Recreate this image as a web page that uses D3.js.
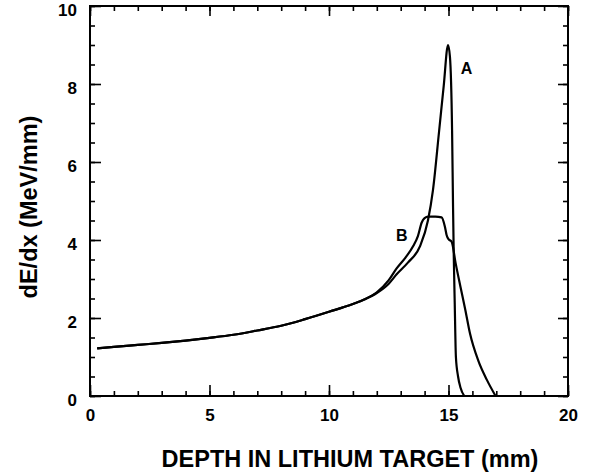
<!DOCTYPE html>
<html>
<head>
<meta charset="utf-8">
<script src="https://cdn.jsdelivr.net/npm/d3@7"></script>
<style>
  html, body { margin: 0; padding: 0; background: #fff; }
  svg text { font-family: "Liberation Sans", Arial, Helvetica, sans-serif; font-weight: bold; fill: #000; }
</style>
</head>
<body>
<svg id="chart" width="590" height="475"></svg>
<script>
// Stopping power along the beam path in a lithium target
const depthA = [0.3, 1, 2, 3, 4, 5, 6, 7, 8, 9, 10, 11, 11.5, 12, 12.5, 12.83, 13.3, 13.8, 14.14, 14.35, 14.6, 14.8, 14.98, 15.06, 15.15, 15.19, 15.22, 15.26, 15.31, 15.4, 15.5, 15.66];
const dedxA  = [1.22, 1.26, 1.31, 1.36, 1.42, 1.49, 1.57, 1.68, 1.80, 1.97, 2.16, 2.36, 2.48, 2.64, 2.88, 3.12, 3.42, 3.83, 4.5, 5.28, 6.75, 7.95, 9.0, 8.7, 6.8, 4.85, 3.6, 2.4, 1.0, 0.5, 0.22, 0];

const depthB = [0.3, 1, 2, 3, 4, 5, 6, 7, 8, 9, 10, 11, 11.5, 12, 12.5, 12.83, 13.2, 13.53, 13.72, 13.88, 14.0, 14.15, 14.45, 14.71, 14.85, 14.92, 15.0, 15.13, 15.3, 15.5, 15.7, 15.9, 16.25, 16.6, 16.97];
const dedxB  = [1.22, 1.26, 1.31, 1.36, 1.42, 1.49, 1.57, 1.68, 1.80, 1.97, 2.16, 2.36, 2.48, 2.66, 2.97, 3.27, 3.55, 3.85, 4.1, 4.45, 4.56, 4.6, 4.6, 4.58, 4.34, 4.13, 4.02, 3.96, 3.4, 2.8, 2.22, 1.6, 0.9, 0.42, 0];

const curveNames = ["A", "B"];
const xMajorTicks = [0, 5, 10, 15, 20];
const yMajorTicks = [0, 2, 4, 6, 8, 10];
const xTitle = "DEPTH IN LITHIUM TARGET (mm)";
const yTitle = "dE/dx (MeV/mm)";

const svg = d3.select("#chart");
const plotL = 90, plotR = 568, plotT = 6, plotB = 396;

const x = d3.scaleLinear().domain([0, 20]).range([plotL, plotR]);
const y = d3.scaleLinear().domain([0, 10]).range([plotB, plotT]);

const xMinor = d3.range(0, 20.001, 1);
const yMinor = d3.range(0, 10.001, 0.5);

function styleAxis(g) {
  g.select(".domain").remove();
  g.selectAll(".tick line").attr("stroke", "#000").attr("stroke-width", 1.6);
  g.selectAll(".tick text").style("font-size", "17px");
}

// minor ticks on all four sides (pointing inward)
svg.append("g").attr("transform", `translate(0,${plotB})`)
  .call(d3.axisBottom(x).tickValues(xMinor).tickSize(-5).tickFormat("")).call(styleAxis);
svg.append("g").attr("transform", `translate(0,${plotT})`)
  .call(d3.axisTop(x).tickValues(xMinor).tickSize(-5).tickFormat("")).call(styleAxis);
svg.append("g").attr("transform", `translate(${plotL},0)`)
  .call(d3.axisLeft(y).tickValues(yMinor).tickSize(-5).tickFormat("")).call(styleAxis);
svg.append("g").attr("transform", `translate(${plotR},0)`)
  .call(d3.axisRight(y).tickValues(yMinor).tickSize(-5).tickFormat("")).call(styleAxis);

// major ticks with labels
svg.append("g").attr("transform", `translate(0,${plotB})`)
  .call(d3.axisBottom(x).tickValues(xMajorTicks).tickSize(-11).tickPadding(13).tickFormat(d3.format("d")))
  .call(styleAxis);
svg.append("g").attr("transform", `translate(0,${plotT})`)
  .call(d3.axisTop(x).tickValues(xMajorTicks).tickSize(-10).tickFormat("")).call(styleAxis);
svg.append("g").attr("transform", `translate(${plotL},0)`)
  .call(d3.axisLeft(y).tickValues(yMajorTicks).tickSize(-11).tickPadding(13).tickFormat(d3.format("d")))
  .call(styleAxis)
  .call(g => g.selectAll(".tick text").attr("y", 4));
svg.append("g").attr("transform", `translate(${plotR},0)`)
  .call(d3.axisRight(y).tickValues(yMajorTicks).tickSize(-10).tickFormat("")).call(styleAxis);

// plot frame
svg.append("rect")
  .attr("x", plotL).attr("y", plotT)
  .attr("width", plotR - plotL).attr("height", plotB - plotT)
  .attr("fill", "none").attr("stroke", "#000").attr("stroke-width", 2);

// curves
const line = d3.line()
  .x(d => x(d[0])).y(d => y(d[1]))
  .curve(d3.curveMonotoneX);

const seriesA = d3.zip(depthA, dedxA);
const seriesB = d3.zip(depthB, dedxB);

[seriesA, seriesB].forEach(s => {
  svg.append("path")
    .datum(s)
    .attr("d", line)
    .attr("fill", "none")
    .attr("stroke", "#000")
    .attr("stroke-width", 2.2)
    .attr("stroke-linejoin", "round");
});

// curve labels
svg.append("text").attr("x", x(15.75)).attr("y", y(8.25))
  .attr("text-anchor", "middle").style("font-size", "16px").text(curveNames[0]);
svg.append("text").attr("x", x(13.05)).attr("y", y(3.97))
  .attr("text-anchor", "middle").style("font-size", "16px").text(curveNames[1]);

// axis titles
svg.append("text")
  .attr("x", 350).attr("y", 467)
  .attr("text-anchor", "middle")
  .style("font-size", "23.5px")
  .text(xTitle);

svg.append("text")
  .attr("transform", `translate(37,207) rotate(-90)`)
  .attr("text-anchor", "middle")
  .style("font-size", "23.5px")
  .text(yTitle);
</script>
</body>
</html>
